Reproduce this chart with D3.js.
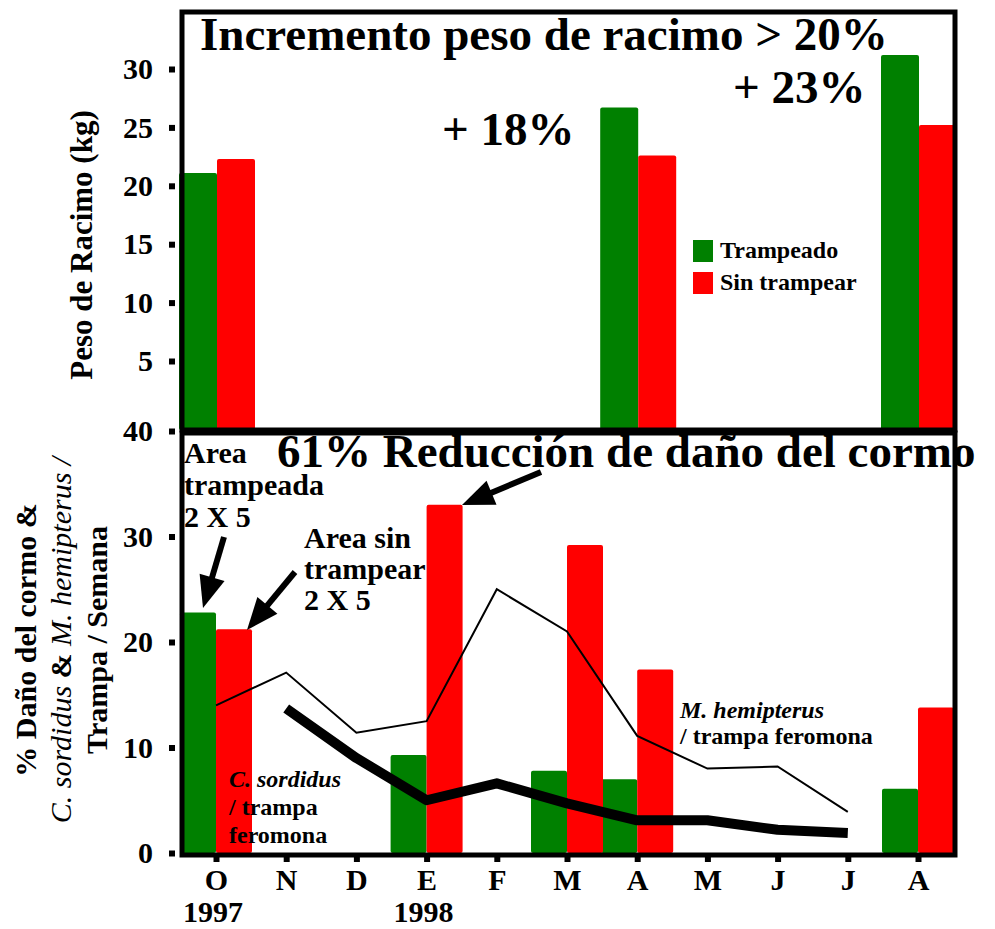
<!DOCTYPE html>
<html>
<head>
<meta charset="utf-8">
<script src="https://cdn.jsdelivr.net/npm/d3@7"></script>
<style>
  body { margin: 0; background: #fff; }
  text { font-family: "Liberation Serif", "Times New Roman", serif; font-weight: bold; fill: #000; }
</style>
</head>
<body>
<div id="chart"></div>
<script>
// ---- datos ----
var monthKeys = ["oct97", "nov97", "dic97", "ene98", "feb98", "mar98", "abr98", "may98", "jun98", "jul98", "ago98"];
var monthLabels = ["O", "N", "D", "E", "F", "M", "A", "M", "J", "J", "A"];
var yearKeys = ["oct97", "ene98"];
var yearLabels = ["1997", "1998"];

// peso de racimo (kg)
var pesoFechas = ["oct97", "abr98", "ago98"];
var pesoTrampeado = [21.1, 26.7, 31.2];
var pesoSinTrampear = [22.3, 22.6, 25.2];
var pesoTicks = [5, 10, 15, 20, 25, 30];

// % dano del cormo
var danoFechas = ["oct97", "ene98", "mar98", "abr98", "ago98"];
var danoTrampeado = [22.8, 9.3, 7.8, 7.0, 6.1];
var danoSinTrampear = [21.2, 33.0, 29.2, 17.4, 13.8];
var danoTicks = [0, 10, 20, 30, 40];

// insectos / trampa / semana
var sordidusFechas = ["nov97", "dic97", "ene98", "feb98", "mar98", "abr98", "may98", "jun98", "jul98"];
var sordidus = [13.7, 9.0, 5.0, 6.6, 4.7, 3.1, 3.1, 2.2, 1.9];
var hemipterusFechas = ["oct97", "nov97", "dic97", "ene98", "feb98", "mar98", "abr98", "may98", "jun98", "jul98"];
var hemipterus = [14.0, 17.1, 11.4, 12.5, 25.0, 21.0, 11.1, 8.0, 8.2, 3.9];

var verde = "#008000", rojo = "#ff0000";

var width = 995, height = 929;
var svg = d3.select("#chart").append("svg")
    .attr("width", width)
    .attr("height", height);

// paneles
var left = 182, right = 955;
var topY0 = 12, topY1 = 430;
var botY0 = 433, botY1 = 855;

var x = d3.scalePoint().domain(monthKeys).range([216, 918]);
var yPeso = d3.scaleLinear().domain([5, 30]).range([361, 69]);
var yDano = d3.scaleLinear().domain([0, 40]).range([853, 431]);

// ---- panel superior: barras ----
var barW = 38;
var gTop = svg.append("g");
gTop.selectAll(".bt").data(pesoFechas).enter().append("rect")
    .attr("x", function(d) { return x(d) - barW + 1; })
    .attr("y", function(d, i) { return yPeso(pesoTrampeado[i]); })
    .attr("width", barW)
    .attr("height", function(d, i) { return topY1 - yPeso(pesoTrampeado[i]); })
    .attr("rx", 2)
    .style("fill", verde);
gTop.selectAll(".bs").data(pesoFechas).enter().append("rect")
    .attr("x", function(d) { return x(d) + 1; })
    .attr("y", function(d, i) { return yPeso(pesoSinTrampear[i]); })
    .attr("width", barW)
    .attr("height", function(d, i) { return topY1 - yPeso(pesoSinTrampear[i]); })
    .attr("rx", 2)
    .style("fill", rojo);

// ---- panel inferior: barras ----
var barW2 = 36;
var gBot = svg.append("g");
gBot.selectAll(".dt").data(danoFechas).enter().append("rect")
    .attr("x", function(d) { return x(d) - barW2; })
    .attr("y", function(d, i) { return yDano(danoTrampeado[i]); })
    .attr("width", barW2)
    .attr("height", function(d, i) { return yDano(0) - yDano(danoTrampeado[i]); })
    .attr("rx", 2)
    .style("fill", verde);
gBot.selectAll(".ds").data(danoFechas).enter().append("rect")
    .attr("x", function(d) { return x(d); })
    .attr("y", function(d, i) { return yDano(danoSinTrampear[i]); })
    .attr("width", barW2)
    .attr("height", function(d, i) { return yDano(0) - yDano(danoSinTrampear[i]); })
    .attr("rx", 2)
    .style("fill", rojo);

// lineas
var line = d3.line()
    .x(function(d) { return x(d[0]); })
    .y(function(d) { return yDano(d[1]); });

gBot.append("path")
    .datum(d3.zip(hemipterusFechas, hemipterus))
    .attr("d", line)
    .style("fill", "none")
    .style("stroke", "#000")
    .style("stroke-width", 2);

gBot.append("path")
    .datum(d3.zip(sordidusFechas, sordidus))
    .attr("d", line)
    .style("fill", "none")
    .style("stroke", "#000")
    .style("stroke-width", 10)
    .style("stroke-linejoin", "round");

// ---- marcos ----
svg.append("rect")
    .attr("x", left).attr("y", topY0)
    .attr("width", right - left).attr("height", topY1 - topY0)
    .style("fill", "none").style("stroke", "#000").style("stroke-width", 5);
svg.append("rect")
    .attr("x", left).attr("y", botY0)
    .attr("width", right - left).attr("height", botY1 - botY0)
    .style("fill", "none").style("stroke", "#000").style("stroke-width", 5);

// ---- ejes ----
function styleAxis(g) {
    g.attr("font-family", null);
    g.select(".domain").remove();
    g.selectAll(".tick line").style("stroke", "#000").style("stroke-width", 6);
    g.selectAll(".tick text").style("font-size", "30px");
}

svg.append("g")
    .attr("transform", "translate(175,0)")
    .call(d3.axisLeft(yPeso).tickValues(pesoTicks).tickSize(6).tickPadding(16))
    .call(styleAxis);

svg.append("g")
    .attr("transform", "translate(175,0)")
    .call(d3.axisLeft(yDano).tickValues(danoTicks).tickSize(6).tickPadding(16))
    .call(styleAxis);

svg.append("g")
    .attr("transform", "translate(0,857)")
    .call(d3.axisBottom(x).tickSize(5).tickPadding(7)
        .tickFormat(function(d, i) { return monthLabels[i]; }))
    .call(styleAxis);

svg.selectAll(".year").data(yearKeys).enter().append("text")
    .attr("x", function(d) { return x(d) - 3; })
    .attr("y", 922)
    .attr("text-anchor", "middle")
    .style("font-size", "30px")
    .text(function(d, i) { return yearLabels[i]; });

// titulos de ejes
svg.append("text")
    .attr("transform", "translate(92,245) rotate(-90)")
    .attr("text-anchor", "middle")
    .style("font-size", "31px")
    .text("Peso de Racimo (kg)");

var yt = svg.append("text")
    .attr("transform", "translate(0,640) rotate(-90)")
    .attr("text-anchor", "middle")
    .style("font-size", "30px");
yt.append("tspan").attr("x", 0).attr("y", 36).text("% Daño del cormo &");
var l2 = yt.append("tspan").attr("x", 0).attr("y", 71);
l2.append("tspan").style("font-style", "italic").style("font-weight", "normal").text("C. sordidus ");
l2.append("tspan").text("& ");
l2.append("tspan").style("font-style", "italic").style("font-weight", "normal").text("M. hemipterus /");
yt.append("tspan").attr("x", 0).attr("y", 107).text("Trampa / Semana");

// ---- leyenda ----
var leg = svg.append("g");
leg.append("rect").attr("x", 693).attr("y", 240).attr("width", 20).attr("height", 22).style("fill", verde);
leg.append("rect").attr("x", 693).attr("y", 272).attr("width", 20).attr("height", 22).style("fill", rojo);
leg.append("text").attr("x", 720).attr("y", 258).style("font-size", "24px").text("Trampeado");
leg.append("text").attr("x", 720).attr("y", 290).style("font-size", "24px").text("Sin trampear");

// ---- textos y anotaciones ----
function label(xp, yp, size, txt) {
    return svg.append("text").attr("x", xp).attr("y", yp).style("font-size", size + "px").text(txt);
}
label(200, 50, 47, "Incremento peso de racimo > 20%");
label(442, 145, 47, "+ 18%");
label(733, 103, 47, "+ 23%");

function block(xp, yp, size, step, lines) {
    var t = svg.append("text").style("font-size", size + "px");
    lines.forEach(function(l, i) {
        var s = t.append("tspan").attr("x", xp).attr("y", yp + i * step).text(l.t);
        if (l.it) s.style("font-style", "italic");
    });
    return t;
}
block(184, 463, 30, 32, [{t: "Area"}, {t: "trampeada"}, {t: "2 X 5"}]);
block(304, 548, 30, 31, [{t: "Area sin"}, {t: "trampear"}, {t: "2 X 5"}]);
block(229, 787, 24, 28, [{t: "C. sordidus", it: true}, {t: "/ trampa"}, {t: "feromona"}]);
block(680, 718, 24, 26, [{t: "M. hemipterus", it: true}, {t: "/ trampa feromona"}]);

// flechas
function arrow(x1, y1, x2, y2) {
    var dx = x2 - x1, dy = y2 - y1, len = Math.sqrt(dx * dx + dy * dy);
    var ux = dx / len, uy = dy / len;
    var hl = 32, hw = 13;
    var bx = x2 - ux * hl, by = y2 - uy * hl;
    svg.append("line")
        .attr("x1", x1).attr("y1", y1).attr("x2", bx + ux * 2).attr("y2", by + uy * 2)
        .style("stroke", "#000").style("stroke-width", 6);
    svg.append("path")
        .attr("d", "M" + x2 + "," + y2 +
            "L" + (bx - uy * hw) + "," + (by + ux * hw) +
            "L" + (bx + uy * hw) + "," + (by - ux * hw) + "Z")
        .style("fill", "#000");
}
arrow(224, 537, 203, 608);
arrow(295, 572, 247, 630);
arrow(541, 472, 462, 505);

label(277, 467, 47, "61% Reducción de daño del cormo");
</script>
</body>
</html>
